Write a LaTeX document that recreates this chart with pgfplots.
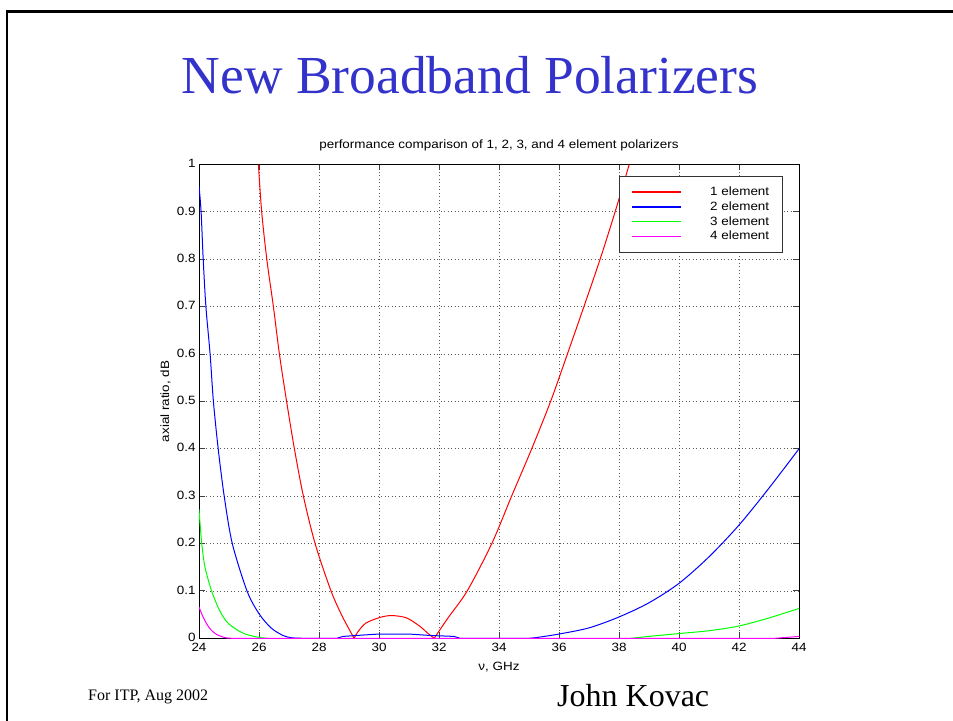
\documentclass[border=0pt]{standalone}
\usepackage{pgfplots}
\pgfplotsset{compat=1.18}
\usepackage{fontspec}
\setmainfont{Liberation Serif}
\newfontfamily\helv[FakeStretch=1.12]{Liberation Sans}
\definecolor{titleblue}{RGB}{51,51,204}
\definecolor{mred}{RGB}{255,0,0}
\definecolor{mblue}{RGB}{0,0,255}
\definecolor{mgreen}{RGB}{0,255,0}
\definecolor{mmag}{RGB}{255,0,255}
\newcommand{\axfont}{\helv\fontsize{12bp}{14bp}\selectfont}
\begin{document}
\begin{tikzpicture}
\useasboundingbox (0bp,0bp) rectangle (953bp,721bp);
\draw[line width=2.7bp, line join=miter] (7bp,0bp) -- (7bp,709.3bp) -- (953bp,709.3bp);
\node[anchor=base, text=titleblue, font=\fontsize{53.5bp}{60bp}\selectfont, inner sep=0pt] at (470bp,627.5bp) {New Broadband Polarizers};
\node[anchor=base west, font=\fontsize{16bp}{18bp}\selectfont, inner sep=0pt] at (88bp,21bp) {For ITP, Aug 2002};
\node[anchor=base west, font=\fontsize{32bp}{36bp}\selectfont, inner sep=0pt] at (557bp,15bp) {John Kovac};
\begin{axis}[
  at={(199bp,82.7bp)}, anchor=south west,
  scale only axis, width=600bp, height=473.8bp,
  xmin=24, xmax=44, ymin=0, ymax=1,
  xtick={24,26,...,44},
  xticklabels={24,26,28,30,32,34,36,38,40,42,44},
  ytick={0,0.1,...,1.01},
  yticklabels={0,0.1,0.2,0.3,0.4,0.5,0.6,0.7,0.8,0.9,1},
  tick align=inside,
  xtick pos=both, ytick pos=both,
  major tick length=6bp,
  tick style={black!75, line width=1bp},
  axis line style={black, line width=0.8bp},
  grid=major,
  major grid style={black!65, line width=0.8bp, dash pattern=on 1bp off 2.5bp},
  ticklabel style={font=\axfont},
  xticklabel style={yshift=-1.5bp},
  yticklabel style={yshift=1bp},
  title={performance comparison of 1, 2, 3, and 4 element polarizers},
  title style={font=\axfont, at={(0.5,1)}, anchor=base, yshift=10.5bp, inner sep=0pt},
  xlabel={ν, GHz},
  xlabel style={font=\axfont, at={(0.5,0)}, anchor=base, yshift=-31.7bp, inner sep=0pt},
  ylabel={axial ratio, dB},
  ylabel style={font=\axfont, at={(0,0.5)}, anchor=base, yshift=30bp, inner sep=0pt},
  clip=true,
  legend style={at={(0.7,0.9764)}, anchor=north west, draw=black!80, line width=0.8bp,
    font=\axfont, inner xsep=12bp, inner ysep=8.5bp, row sep=0pt,
    nodes={text height=9bp, text depth=2.5bp, inner ysep=1.7bp, inner xsep=1.6bp},
    /tikz/every odd column/.append style={column sep=27bp}},
  legend image code/.code={\draw[#1, line width=1.2bp] (0bp,0bp) -- (49bp,0bp);},
  legend cell align=right,
  every axis plot/.append style={line width=1bp},
]
% 1 element
\addplot[mred, smooth, tension=0.5] coordinates {
(25.98,1.0)(26.09,0.9)(26.26,0.8)(26.48,0.7)(26.68,0.6)(26.92,0.5)(27.18,0.4)(27.48,0.3)(27.87,0.2)(28.4,0.1)(28.78,0.046)(29.17,0.0)};
\addlegendentry{1 element}
% 2 element
\addplot[mblue, smooth, tension=0.5] coordinates {
(24.0,0.955)(24.07,0.9)(24.14,0.8)(24.23,0.7)(24.37,0.6)(24.48,0.5)(24.64,0.4)(24.84,0.3)(25.11,0.2)(25.6,0.1)(26.0,0.052)(26.4,0.022)(26.8,0.006)(27.1,0.001)(27.5,0.0)};
\addlegendentry{2 element}
% 3 element
\addplot[mgreen, smooth, tension=0.5] coordinates {
(24.0,0.272)(24.05,0.23)(24.1,0.195)(24.2,0.15)(24.42,0.1)(24.7,0.057)(25.0,0.03)(25.5,0.01)(26.0,0.002)(26.3,0.0)};
\addlegendentry{3 element}
% 4 element
\addplot[mmag, smooth, tension=0.5] coordinates {
(24.0,0.066)(24.1,0.05)(24.26,0.03)(24.4,0.018)(24.59,0.008)(24.9,0.001)(25.2,0.0)};
\addlegendentry{4 element}
% remaining segments
\addplot[mred, smooth, tension=0.5, forget plot] coordinates {
(29.17,0.0)(29.3,0.014)(29.56,0.032)(30.03,0.044)(30.42,0.048)(30.92,0.043)(31.37,0.025)(31.6,0.012)(31.84,0.0)};
\addplot[mred, smooth, tension=0.5, forget plot] coordinates {
(31.84,0.0)(32.3,0.043)(32.94,0.1)(33.76,0.2)(34.42,0.3)(35.09,0.4)(35.72,0.5)(36.28,0.6)(36.83,0.7)(37.37,0.8)(37.87,0.9)(38.34,1.0)};
\addplot[mblue, forget plot] coordinates {
(27.5,0.0)(28.6,0.0)(28.8,0.004)(29.5,0.007)(30.0,0.009)(31.0,0.009)(31.7,0.006)(32.5,0.004)(32.7,0.0)(35.0,0.0)};
\addplot[mblue, smooth, tension=0.5, forget plot] coordinates {
(35.0,0.0)(35.3,0.002)(36,0.009)(37,0.022)(38,0.045)(39,0.075)(40,0.116)(41,0.172)(42,0.239)(43,0.317)(44,0.4)};
\addplot[mgreen, forget plot] coordinates {(26.3,0.0)(38.4,0.0)};
\addplot[mgreen, smooth, tension=0.5, forget plot] coordinates {
(38.4,0.0)(39,0.004)(40,0.01)(41,0.016)(42,0.026)(43,0.043)(44,0.063)};
\addplot[mmag, forget plot] coordinates {(25.2,0.0)(43.2,0.0)(43.6,0.002)(44,0.004)};
\end{axis}
\end{tikzpicture}
\end{document}
